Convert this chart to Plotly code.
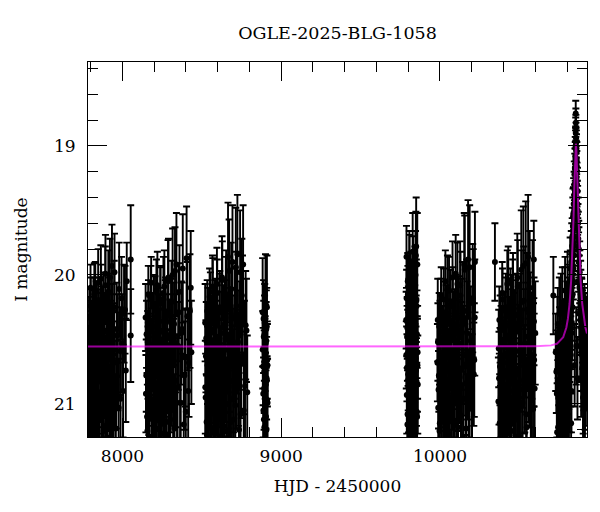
import plotly.graph_objects as go

# ---------------- data (HJD - 2450000, I mag, error) ----------------
hjd1 = [7786, 7788, 7791, 7793, 7797, 7799, 7802, 7806, 7808, 7811, 7815, 7817, 7820, 7824, 7827,
        7829, 7833, 7836, 7838, 7842, 7845, 7848, 7851, 7855, 7858, 7861, 7864, 7868, 7871, 7874,
        7878, 7881, 7885, 7888, 7892, 7895, 7899, 7903, 7906, 7910, 7913, 7917, 7921, 7925, 7928,
        7932, 7936, 7941, 7945, 7950, 7955, 7961, 7968, 7976, 7985, 7994, 8004, 8016, 8027, 8052, 8052]
mag1 = [20.62, 20.95, 20.33, 21.18, 20.74, 20.10, 20.88, 21.32, 20.45, 20.67,
        21.05, 20.22, 20.81, 20.53, 21.25, 20.12, 20.97, 20.40, 20.70, 21.12,
        20.58, 20.26, 20.91, 21.38, 20.48, 20.79, 20.03, 20.64, 21.01, 20.35,
        20.86, 21.21, 20.43, 20.72, 20.08, 20.99, 20.56, 21.29, 20.29, 20.83,
        20.61, 21.08, 20.02, 20.76, 20.50, 21.15, 20.37, 20.93, 20.68, 19.98,
        21.35, 20.85, 20.47, 21.03, 20.59, 20.18, 20.90, 20.27, 20.05, 19.88, 20.47]
err1 = [0.22, 0.30, 0.22, 0.36, 0.26, 0.18, 0.30, 0.38, 0.24, 0.26,
        0.34, 0.20, 0.30, 0.25, 0.38, 0.22, 0.32, 0.26, 0.28, 0.36,
        0.26, 0.24, 0.32, 0.40, 0.26, 0.30, 0.26, 0.28, 0.34, 0.26,
        0.32, 0.38, 0.28, 0.30, 0.30, 0.34, 0.28, 0.40, 0.30, 0.32,
        0.30, 0.36, 0.30, 0.32, 0.30, 0.38, 0.30, 0.34, 0.32, 0.30,
        0.42, 0.34, 0.32, 0.38, 0.34, 0.32, 0.36, 0.34, 0.30, 0.42, 0.36]
hjd1b = [7787, 7790, 7794, 7796, 7800, 7803, 7805, 7809, 7812, 7814, 7818, 7821, 7823, 7826, 7830,
         7832, 7835, 7839, 7841, 7844, 7847, 7849, 7853, 7856, 7859, 7863, 7866, 7869, 7873, 7876,
         7879, 7883, 7886, 7890, 7893, 7897, 7901, 7904, 7908, 7911, 7915, 7919, 7923, 7927, 7930,
         7934, 7939, 7943, 7948, 7952, 7958, 7964, 7971, 7979, 7988, 7998, 8010, 8021]
mag1b = [20.84, 20.41, 21.09, 20.57, 20.24, 21.28, 20.69, 20.93, 20.36, 21.14,
         20.51, 20.77, 20.15, 21.02, 20.63, 20.89, 20.31, 21.22, 20.46, 20.73,
         20.06, 20.98, 20.55, 21.33, 20.39, 20.82, 20.20, 21.07, 20.66, 20.92,
         20.28, 21.17, 20.52, 20.79, 19.99, 20.95, 20.44, 21.26, 20.60, 20.13,
         20.87, 20.34, 21.11, 20.71, 20.49, 19.93, 21.00, 20.58, 20.25, 20.80,
         21.19, 20.42, 20.67, 20.11, 20.96, 20.53, 20.30, 20.74]
err1b = [0.28, 0.24, 0.34, 0.26, 0.22, 0.38, 0.28, 0.32, 0.24, 0.36,
         0.26, 0.30, 0.24, 0.34, 0.28, 0.32, 0.26, 0.38, 0.28, 0.30,
         0.26, 0.34, 0.28, 0.40, 0.28, 0.32, 0.28, 0.36, 0.30, 0.34,
         0.30, 0.38, 0.30, 0.32, 0.30, 0.34, 0.30, 0.40, 0.32, 0.32,
         0.34, 0.32, 0.38, 0.34, 0.34, 0.32, 0.38, 0.36, 0.36, 0.38,
         0.42, 0.36, 0.38, 0.36, 0.40, 0.38, 0.38, 0.40]

hjd2 = [8146, 8150, 8155, 8159, 8163, 8166, 8170, 8174, 8177, 8181, 8185, 8188, 8192, 8196, 8199,
        8203, 8207, 8210, 8214, 8218, 8222, 8225, 8229, 8233, 8237, 8240, 8244, 8248, 8252, 8256,
        8260, 8264, 8268, 8272, 8276, 8281, 8285, 8290, 8294, 8299, 8304, 8309, 8314, 8319, 8325,
        8331, 8337, 8344, 8351, 8359, 8367, 8376, 8386, 8395, 8404, 8414, 8425, 8434]
mag2 = [20.33, 20.78, 21.10, 20.52, 20.15, 20.94, 21.27, 20.41, 20.69, 20.06,
        20.87, 21.36, 20.58, 20.24, 21.02, 20.73, 20.47, 21.19, 20.12, 20.84,
        20.61, 21.31, 20.36, 20.96, 20.54, 20.19, 21.07, 20.80, 20.44, 21.23,
        20.66, 20.09, 20.91, 20.30, 21.14, 20.57, 20.75, 20.02, 21.40, 20.49,
        20.88, 20.21, 20.70, 21.04, 20.38, 19.97, 20.82, 21.28, 20.55, 20.13,
        20.99, 20.42, 21.16, 20.64, 19.87, 20.90, 20.28, 20.60]
err2 = [0.26, 0.28, 0.34, 0.24, 0.22, 0.30, 0.38, 0.24, 0.28, 0.20,
        0.30, 0.40, 0.26, 0.24, 0.34, 0.28, 0.26, 0.36, 0.24, 0.30,
        0.28, 0.40, 0.26, 0.32, 0.28, 0.26, 0.34, 0.30, 0.28, 0.38,
        0.30, 0.28, 0.32, 0.28, 0.36, 0.30, 0.32, 0.30, 0.42, 0.30,
        0.34, 0.32, 0.34, 0.38, 0.32, 0.34, 0.36, 0.42, 0.34, 0.36,
        0.38, 0.36, 0.40, 0.38, 0.40, 0.40, 0.44, 0.40]
hjd2b = [8148, 8152, 8157, 8161, 8164, 8168, 8172, 8175, 8179, 8183, 8186, 8190, 8194, 8197, 8201,
         8205, 8208, 8212, 8216, 8220, 8223, 8227, 8231, 8235, 8238, 8242, 8246, 8250, 8254, 8258,
         8262, 8266, 8270, 8274, 8279, 8283, 8287, 8292, 8297, 8301, 8306, 8311, 8316, 8322, 8328,
         8334, 8340, 8347, 8355, 8363, 8371, 8380, 8390, 8399, 8409, 8419, 8430]
mag2b = [20.92, 20.46, 21.21, 20.68, 20.30, 21.04, 20.56, 20.83, 20.17, 21.33,
         20.62, 20.40, 20.97, 20.74, 21.15, 20.27, 20.89, 20.52, 21.29, 20.08,
         20.79, 20.43, 21.08, 20.65, 20.22, 20.95, 21.37, 20.50, 20.85, 20.14,
         21.01, 20.59, 20.34, 20.76, 21.24, 20.47, 20.05, 20.91, 20.63, 21.12,
         20.37, 20.81, 20.00, 20.70, 21.19, 20.53, 19.92, 20.87, 20.29, 20.99,
         20.45, 19.95, 20.78, 21.06, 20.32, 20.68, 20.10]
err2b = [0.30, 0.26, 0.36, 0.28, 0.26, 0.34, 0.26, 0.30, 0.24, 0.40,
         0.28, 0.26, 0.32, 0.30, 0.36, 0.26, 0.32, 0.28, 0.40, 0.26,
         0.30, 0.28, 0.36, 0.30, 0.28, 0.34, 0.42, 0.30, 0.32, 0.28,
         0.36, 0.32, 0.30, 0.34, 0.40, 0.32, 0.32, 0.36, 0.34, 0.40,
         0.34, 0.36, 0.36, 0.36, 0.42, 0.38, 0.40, 0.40, 0.38, 0.42,
         0.40, 0.42, 0.42, 0.44, 0.42, 0.42, 0.44]

hjd3 = [8521, 8522, 8526, 8530, 8534, 8538, 8541, 8545, 8549, 8552, 8556, 8560, 8563, 8567, 8571,
        8574, 8578, 8582, 8586, 8589, 8593, 8597, 8601, 8605, 8609, 8613, 8617, 8621, 8625, 8629,
        8634, 8638, 8642, 8647, 8651, 8656, 8661, 8665, 8670, 8675, 8680, 8685, 8690, 8696, 8702,
        8708, 8714, 8720, 8727, 8734, 8741, 8748, 8756, 8764, 8772, 8781]
mag3 = [20.37, 20.87, 20.63, 21.14, 20.28, 20.92, 20.51, 21.30, 20.17, 20.76,
        21.03, 20.44, 20.85, 20.09, 21.22, 20.59, 20.71, 20.32, 21.37, 20.98,
        20.48, 20.14, 20.81, 21.09, 20.55, 20.25, 20.94, 21.26, 20.67, 20.04,
        20.89, 20.40, 21.17, 20.73, 20.20, 21.00, 20.58, 19.86, 20.83, 21.33,
        20.46, 20.11, 20.96, 20.62, 21.12, 20.34, 19.94, 20.79, 20.52, 21.20,
        19.98, 20.69, 20.27, 21.05, 20.86, 20.43]
err3 = [0.30, 0.36, 0.28, 0.36, 0.24, 0.32, 0.26, 0.40, 0.22, 0.30,
        0.34, 0.26, 0.30, 0.24, 0.38, 0.28, 0.30, 0.28, 0.42, 0.34,
        0.28, 0.26, 0.32, 0.36, 0.30, 0.28, 0.34, 0.40, 0.32, 0.30,
        0.34, 0.32, 0.38, 0.34, 0.34, 0.36, 0.34, 0.42, 0.36, 0.42,
        0.36, 0.36, 0.38, 0.36, 0.40, 0.40, 0.46, 0.40, 0.40, 0.44,
        0.48, 0.42, 0.42, 0.44, 0.42, 0.40]
hjd3b = [8524, 8528, 8532, 8536, 8539, 8543, 8547, 8550, 8554, 8558, 8562, 8565, 8569, 8572, 8576,
         8580, 8584, 8587, 8591, 8595, 8599, 8603, 8607, 8611, 8615, 8619, 8623, 8627, 8631, 8636,
         8640, 8644, 8649, 8653, 8658, 8663, 8667, 8672, 8677, 8682, 8687, 8693, 8699, 8705, 8711,
         8717, 8724, 8730, 8737, 8744, 8752, 8760, 8768, 8776, 8786]
mag3b = [20.95, 20.49, 21.24, 20.70, 20.36, 21.07, 20.60, 20.88, 20.22, 21.35,
         20.54, 20.79, 20.13, 20.99, 20.42, 21.18, 20.65, 20.31, 20.90, 20.07,
         21.11, 20.57, 20.84, 20.29, 21.28, 20.74, 20.45, 20.02, 20.93, 20.61,
         21.04, 20.38, 20.78, 20.15, 21.21, 20.50, 20.87, 19.97, 20.68, 21.14,
         20.33, 19.90, 20.82, 20.56, 21.01, 20.24, 19.84, 20.73, 20.47, 21.08,
         20.16, 19.92, 20.64, 20.39, 20.91]
err3b = [0.34, 0.28, 0.38, 0.30, 0.26, 0.34, 0.28, 0.32, 0.24, 0.42,
         0.28, 0.30, 0.26, 0.34, 0.28, 0.38, 0.30, 0.28, 0.34, 0.28,
         0.38, 0.30, 0.34, 0.30, 0.42, 0.34, 0.32, 0.32, 0.36, 0.34,
         0.38, 0.34, 0.36, 0.34, 0.42, 0.36, 0.38, 0.40, 0.38, 0.42,
         0.38, 0.44, 0.40, 0.40, 0.42, 0.42, 0.46, 0.44, 0.42, 0.46,
         0.44, 0.46, 0.44, 0.42, 0.44]

hjd4 = [8883, 8886, 8888, 8890, 8892, 8894, 8896, 8898, 8900, 8902, 8904, 8906, 8908, 8910, 8912, 8914,
        8884, 8887, 8889, 8891, 8893, 8895, 8897, 8899, 8901, 8903, 8905, 8907, 8909, 8911, 8913]
mag4 = [20.29, 20.71, 21.05, 20.48, 20.88, 21.18, 20.37, 20.62, 20.95, 20.53, 21.10, 20.42, 20.80, 20.25, 20.66, 20.99,
        20.58, 20.92, 20.34, 21.12, 20.75, 20.46, 21.02, 20.64, 20.22, 20.85, 20.51, 21.20, 20.40, 20.97, 20.70]
err4 = [0.42, 0.30, 0.34, 0.28, 0.32, 0.36, 0.30, 0.28, 0.34, 0.30, 0.36, 0.30, 0.32, 0.40, 0.30, 0.34,
        0.30, 0.34, 0.30, 0.36, 0.32, 0.30, 0.34, 0.32, 0.38, 0.34, 0.30, 0.38, 0.30, 0.34, 0.32]

hjd5 = [9787, 9789, 9792, 9793, 9796, 9798, 9799, 9802, 9804, 9805, 9808, 9810, 9811, 9814, 9816, 9817,
        9820, 9822, 9823, 9826, 9828, 9829, 9832, 9834, 9835, 9838, 9840, 9841, 9844, 9846, 9847,
        9850, 9852, 9853, 9856, 9858]
mag5 = [20.35, 19.86, 20.72, 20.48, 21.08, 20.15, 20.60, 20.92, 20.27, 20.81,
        19.95, 20.54, 21.14, 20.40, 20.06, 20.67, 20.98, 20.21, 20.86, 20.45,
        19.82, 20.75, 21.02, 20.31, 20.58, 20.10, 20.90, 20.38, 20.64, 20.00,
        20.50, 19.78, 20.83, 20.24, 21.10, 20.70]
err5 = [0.22, 0.24, 0.26, 0.24, 0.34, 0.22, 0.26, 0.30, 0.24, 0.28,
        0.26, 0.26, 0.34, 0.24, 0.24, 0.28, 0.32, 0.26, 0.30, 0.28,
        0.30, 0.30, 0.34, 0.28, 0.30, 0.28, 0.32, 0.30, 0.32, 0.34,
        0.32, 0.38, 0.34, 0.32, 0.38, 0.36]
hjd5b = [9788, 9790, 9791, 9794, 9795, 9797, 9800, 9801, 9803, 9806, 9807, 9809, 9812, 9813, 9815,
         9818, 9819, 9821, 9824, 9825, 9827, 9830, 9831, 9833, 9836, 9837, 9839, 9842, 9843, 9845,
         9848, 9849, 9851, 9854, 9855, 9857, 9859, 9860]
mag5b = [20.62, 20.18, 20.93, 20.41, 21.16, 20.05, 20.77, 20.33, 20.55, 21.04,
         19.90, 20.69, 20.26, 20.88, 20.47, 21.20, 20.12, 20.79, 20.36, 20.96,
         20.58, 19.98, 20.84, 20.28, 21.12, 20.43, 20.66, 20.08, 20.99, 20.52,
         19.85, 20.74, 20.20, 21.06, 20.46, 19.92, 20.60, 20.85]
err5b = [0.26, 0.22, 0.30, 0.24, 0.34, 0.22, 0.28, 0.24, 0.26, 0.32,
         0.24, 0.28, 0.24, 0.30, 0.26, 0.36, 0.24, 0.30, 0.28, 0.32,
         0.30, 0.28, 0.32, 0.28, 0.36, 0.30, 0.32, 0.30, 0.34, 0.32,
         0.34, 0.34, 0.32, 0.38, 0.34, 0.40, 0.36, 0.38]

hjd6 = [9986, 9987, 9989, 9993, 9997, 10000, 10004, 10008, 10011, 10015, 10019, 10022, 10026, 10030,
        10034, 10037, 10041, 10045, 10049, 10053, 10057, 10061, 10065, 10069, 10073, 10077, 10081,
        10086, 10090, 10094, 10099, 10103, 10108, 10112, 10117, 10122, 10127, 10132, 10137, 10142,
        10148, 10153, 10159, 10165, 10171, 10177, 10184, 10191, 10198, 10206, 10213, 10219, 10220]
mag6 = [20.35, 20.52, 21.03, 20.78, 21.21, 20.44, 20.91, 20.16, 21.34, 20.63,
        20.85, 20.29, 21.12, 20.57, 20.05, 20.97, 20.70, 21.26, 20.38, 20.82,
        20.12, 21.06, 20.60, 20.47, 21.38, 20.88, 20.22, 20.74, 21.16, 20.41,
        19.99, 20.93, 20.66, 21.29, 20.33, 20.80, 20.08, 21.09, 20.55, 20.26,
        20.96, 19.92, 20.71, 21.19, 20.45, 19.88, 20.86, 20.59, 21.01, 20.18,
        20.77, 20.33, 19.90]
err6 = [0.32, 0.30, 0.36, 0.28, 0.36, 0.24, 0.30, 0.22, 0.40, 0.26,
        0.30, 0.24, 0.36, 0.26, 0.24, 0.32, 0.28, 0.40, 0.26, 0.30,
        0.26, 0.36, 0.28, 0.28, 0.42, 0.32, 0.28, 0.30, 0.38, 0.30,
        0.30, 0.34, 0.32, 0.42, 0.32, 0.34, 0.34, 0.38, 0.34, 0.36,
        0.38, 0.40, 0.38, 0.42, 0.40, 0.46, 0.40, 0.40, 0.42, 0.42,
        0.40, 0.45, 0.39]
hjd6b = [9984, 9991, 9995, 9999, 10002, 10006, 10009, 10013, 10017, 10020, 10024, 10028, 10032,
         10035, 10039, 10043, 10047, 10051, 10055, 10059, 10063, 10067, 10071, 10075, 10079, 10083,
         10088, 10092, 10096, 10101, 10105, 10110, 10114, 10119, 10124, 10129, 10134, 10139, 10145,
         10150, 10156, 10162, 10168, 10174, 10180, 10187, 10194, 10202, 10209, 10216]
mag6b = [20.68, 20.89, 20.40, 21.15, 20.61, 20.27, 21.00, 20.75, 20.50, 21.30,
         20.19, 20.86, 20.58, 21.08, 20.34, 20.95, 20.11, 20.72, 21.23, 20.48,
         20.83, 20.24, 21.36, 20.64, 20.02, 20.92, 20.43, 21.13, 20.69, 20.30,
         20.87, 20.07, 21.18, 20.53, 20.79, 20.16, 20.98, 20.39, 21.26, 20.62,
         19.96, 20.84, 20.28, 20.70, 21.04, 19.94, 20.51, 20.90, 20.22, 20.66]
err6b = [0.30, 0.30, 0.26, 0.36, 0.28, 0.24, 0.34, 0.28, 0.26, 0.40,
         0.24, 0.32, 0.28, 0.36, 0.26, 0.34, 0.26, 0.30, 0.38, 0.28,
         0.32, 0.28, 0.42, 0.30, 0.28, 0.34, 0.30, 0.38, 0.32, 0.30,
         0.34, 0.32, 0.40, 0.34, 0.36, 0.34, 0.38, 0.36, 0.42, 0.38,
         0.42, 0.40, 0.40, 0.42, 0.44, 0.48, 0.42, 0.44, 0.42, 0.44]

hjd7 = [10346, 10370, 10372, 10376, 10379, 10383, 10387, 10390, 10394, 10398, 10402, 10405, 10409,
        10413, 10417, 10420, 10424, 10428, 10432, 10436, 10440, 10444, 10448, 10452, 10456, 10460,
        10464, 10469, 10473, 10478, 10482, 10487, 10492, 10497, 10502, 10507, 10512, 10517, 10523,
        10528, 10534, 10540, 10546, 10552, 10558, 10565, 10572, 10579, 10586, 10591, 10592, 10593, 10600]
mag7 = [19.90, 20.57, 20.80, 21.15, 20.42, 20.95, 20.66, 21.30, 20.19, 20.74,
        21.02, 20.50, 20.87, 20.28, 21.22, 20.61, 20.07, 20.92, 20.39, 21.11,
        20.70, 20.23, 21.36, 20.54, 20.84, 20.13, 20.98, 20.46, 21.07, 20.31,
        20.77, 20.02, 21.25, 20.59, 20.89, 20.35, 19.96, 21.00, 20.65, 20.20,
        20.82, 19.91, 21.18, 20.48, 20.72, 20.10, 20.94, 20.56, 21.04, 19.88,
        20.36, 20.66, 20.45]
err7 = [0.30, 0.30, 0.36, 0.38, 0.26, 0.32, 0.28, 0.40, 0.24, 0.30,
        0.34, 0.26, 0.30, 0.26, 0.38, 0.28, 0.26, 0.32, 0.28, 0.36,
        0.30, 0.28, 0.42, 0.30, 0.32, 0.30, 0.34, 0.32, 0.38, 0.32,
        0.34, 0.34, 0.42, 0.36, 0.36, 0.36, 0.46, 0.40, 0.38, 0.42,
        0.40, 0.48, 0.44, 0.42, 0.42, 0.44, 0.42, 0.40, 0.42, 0.30,
        0.34, 0.36, 0.40]
hjd7b = [10368, 10374, 10378, 10381, 10385, 10389, 10392, 10396, 10400, 10404, 10407, 10411, 10415,
         10418, 10422, 10426, 10430, 10434, 10438, 10442, 10446, 10450, 10454, 10458, 10462, 10466,
         10471, 10475, 10480, 10485, 10490, 10494, 10499, 10504, 10509, 10514, 10520, 10525, 10531,
         10537, 10543, 10549, 10555, 10562, 10569, 10576, 10583, 10589, 10596]
mag7b = [20.98, 20.35, 20.71, 21.26, 20.52, 20.86, 20.14, 21.09, 20.63, 20.41,
         20.93, 21.33, 20.25, 20.79, 20.56, 21.17, 20.04, 20.90, 20.47, 20.68,
         21.05, 20.30, 20.83, 20.18, 21.21, 20.60, 20.96, 20.38, 20.75, 21.12,
         20.09, 20.87, 20.44, 21.29, 20.66, 20.21, 20.99, 19.93, 20.81, 20.53,
         21.08, 20.27, 19.86, 20.74, 20.40, 20.97, 20.15, 20.62, 20.88]
err7b = [0.34, 0.26, 0.30, 0.40, 0.28, 0.32, 0.24, 0.36, 0.28, 0.28,
         0.32, 0.42, 0.26, 0.30, 0.28, 0.38, 0.26, 0.34, 0.30, 0.32,
         0.36, 0.30, 0.34, 0.30, 0.40, 0.34, 0.36, 0.34, 0.36, 0.40,
         0.36, 0.38, 0.38, 0.44, 0.40, 0.40, 0.42, 0.46, 0.42, 0.42,
         0.44, 0.44, 0.48, 0.44, 0.42, 0.44, 0.42, 0.40, 0.42]

hjd8 = [10714, 10729, 10736, 10740, 10744, 10748, 10750, 10752, 10756, 10760, 10764, 10768, 10771,
        10775, 10778, 10780, 10782, 10785, 10788, 10791, 10794, 10797, 10800, 10803, 10806, 10808,
        10809, 10812, 10815, 10818, 10820, 10823, 10826, 10826, 10828, 10830, 10832, 10834, 10836,
        10838, 10840, 10842, 10844, 10846, 10848, 10848, 10850, 10852, 10853, 10854, 10855, 10856,
        10857, 10858, 10858, 10859, 10860, 10861, 10862, 10864, 10866, 10866, 10868, 10870, 10872,
        10874, 10877, 10880, 10883, 10886, 10889, 10892, 10895, 10898, 10901, 10904, 10907, 10910,
        10913, 10916, 10919, 10922, 10925]
mag8 = [20.16, 20.60, 20.92, 20.45, 21.18, 20.71, 21.36, 20.30, 21.05, 20.58, 21.32, 20.84, 20.22,
        20.97, 20.50, 21.28, 21.12, 20.66, 20.12, 20.88, 20.40, 21.24, 20.62, 20.08, 20.78, 21.30,
        20.35, 21.00, 20.18, 20.55, 19.95, 20.72, 20.10, 21.15, 20.90, 19.84, 20.38, 19.70, 20.15,
        19.55, 19.95, 19.45, 19.75, 19.30, 19.50, 20.70, 19.18, 19.08, 19.35, 19.00, 18.75, 18.86,
        18.94, 19.10, 20.55, 19.25, 19.05, 19.40, 19.20, 19.55, 19.35, 20.80, 19.78, 19.60, 20.05,
        19.80, 20.30, 19.98, 20.55, 20.15, 20.80, 20.28, 20.62, 20.40, 20.95, 20.50, 20.75, 20.35,
        21.02, 20.58, 20.85, 20.45, 20.70]
err8 = [0.30, 0.30, 0.34, 0.28, 0.38, 0.30, 0.40, 0.28, 0.34, 0.30, 0.40, 0.32, 0.28,
        0.34, 0.30, 0.38, 0.36, 0.30, 0.26, 0.32, 0.28, 0.38, 0.30, 0.26, 0.30, 0.40,
        0.28, 0.34, 0.26, 0.28, 0.24, 0.30, 0.26, 0.36, 0.32, 0.24, 0.28, 0.22, 0.26,
        0.22, 0.24, 0.20, 0.22, 0.18, 0.20, 0.32, 0.16, 0.15, 0.18, 0.14, 0.10, 0.10,
        0.12, 0.14, 0.30, 0.16, 0.14, 0.18, 0.16, 0.20, 0.18, 0.32, 0.22, 0.20, 0.24,
        0.22, 0.26, 0.24, 0.28, 0.26, 0.30, 0.26, 0.28, 0.28, 0.32, 0.28, 0.30, 0.28,
        0.34, 0.30, 0.32, 0.28, 0.30]
hjd8b = [10733, 10738, 10742, 10746, 10754, 10758, 10762, 10766, 10770, 10773, 10777, 10784, 10787,
         10790, 10793, 10796, 10799, 10802, 10805, 10811, 10814, 10817, 10821, 10824, 10827, 10829,
         10833, 10835, 10837, 10839, 10841, 10843, 10845, 10847, 10849, 10851, 10852, 10854, 10855,
         10856, 10857, 10859, 10860, 10862, 10863, 10865, 10867, 10869, 10871, 10873, 10875, 10878,
         10881, 10884, 10887, 10890, 10893, 10896, 10899, 10902, 10905, 10908, 10911, 10914, 10917,
         10920, 10923]
mag8b = [20.75, 21.22, 20.38, 20.95, 20.55, 21.10, 20.27, 20.82, 21.30, 20.48,
         20.68, 20.92, 20.20, 21.16, 20.60, 20.85, 20.33, 21.04, 20.52, 20.74,
         20.28, 20.90, 20.05, 20.62, 19.90, 20.45, 19.78, 20.25, 19.62, 20.05,
         19.52, 19.85, 19.38, 19.62, 19.22, 19.40, 19.12, 19.02, 18.90, 18.82,
         18.98, 19.02, 19.15, 19.12, 19.30, 19.45, 19.50, 19.65, 19.72, 19.90,
         19.85, 20.10, 20.05, 20.35, 20.22, 20.60, 20.30, 20.72, 20.45, 20.90,
         20.38, 20.65, 20.50, 20.88, 20.42, 20.75, 20.55]
err8b = [0.32, 0.38, 0.28, 0.34, 0.30, 0.36, 0.28, 0.32, 0.40, 0.28,
         0.30, 0.34, 0.26, 0.36, 0.30, 0.32, 0.28, 0.34, 0.30, 0.30,
         0.26, 0.32, 0.24, 0.30, 0.24, 0.28, 0.22, 0.26, 0.22, 0.24,
         0.20, 0.22, 0.18, 0.20, 0.16, 0.18, 0.15, 0.14, 0.12, 0.11,
         0.12, 0.14, 0.15, 0.15, 0.17, 0.18, 0.19, 0.20, 0.21, 0.23,
         0.22, 0.25, 0.24, 0.27, 0.26, 0.30, 0.27, 0.30, 0.28, 0.33,
         0.28, 0.30, 0.29, 0.32, 0.28, 0.30, 0.29]

# microlensing model curve
model_hjd = [7783, 10600, 10700, 10736, 10776, 10796, 10806, 10816, 10826, 10831, 10836, 10841,
             10846, 10849, 10851, 10853, 10856, 10859, 10861, 10863, 10866, 10871, 10876, 10881,
             10886, 10896, 10906, 10916, 10926]
model_mag = [20.555, 20.553, 20.546, 20.534, 20.483, 20.407, 20.337, 20.225, 20.048, 19.923,
             19.765, 19.568, 19.330, 19.185, 19.097, 19.027, 18.983, 19.027, 19.097, 19.185,
             19.330, 19.568, 19.765, 19.923, 20.048, 20.225, 20.337, 20.407, 20.453]

x_range = [7783, 10926]
y_range = [21.256, 18.35]

# ---------------- figure ----------------
hjd = hjd1 + hjd1b + hjd2 + hjd2b + hjd3 + hjd3b + hjd4 + hjd5 + hjd5b + hjd6 + hjd6b + hjd7 + hjd7b + hjd8 + hjd8b
mag = mag1 + mag1b + mag2 + mag2b + mag3 + mag3b + mag4 + mag5 + mag5b + mag6 + mag6b + mag7 + mag7b + mag8 + mag8b
err = err1 + err1b + err2 + err2b + err3 + err3b + err4 + err5 + err5b + err6 + err6b + err7 + err7b + err8 + err8b

FONT = "DejaVu Serif"

fig = go.Figure()
fig.add_trace(go.Scatter(
    x=hjd, y=mag, mode="markers",
    marker=dict(color="black", size=6),
    error_y=dict(type="data", array=err, visible=True, color="black", thickness=1.9, width=3.5),
    showlegend=False,
))
fig.add_trace(go.Scatter(
    x=model_hjd, y=model_mag, mode="lines",
    line=dict(color="rgba(255,0,255,0.6)", width=2),
    showlegend=False,
))

axis_common = dict(
    showline=True, linecolor="black", linewidth=1, mirror="ticks",
    ticks="inside", ticklen=19, tickwidth=1, tickcolor="black",
    showgrid=False, zeroline=False, tickformat="d",
    tickfont=dict(family=FONT, size=17, color="black"),
)

fig.update_xaxes(
    range=x_range, tickmode="linear", tick0=8000, dtick=1000,
    minor=dict(ticks="inside", ticklen=10, dtick=200, tick0=8000, tickcolor="black", showgrid=False),
    title=dict(text="HJD - 2450000", font=dict(family=FONT, size=17, color="black"), standoff=14),
    ticklabelstandoff=4,
    **axis_common,
)
fig.update_yaxes(
    range=y_range, tickmode="linear", tick0=19, dtick=1,
    minor=dict(ticks="inside", ticklen=10, dtick=0.2, tick0=19, tickcolor="black", showgrid=False),
    title=dict(text="I magnitude", font=dict(family=FONT, size=17, color="black"), standoff=22),
    ticklabelstandoff=8,
    **axis_common,
)

fig.update_layout(
    width=584, height=496,
    margin=dict(l=80, r=5, t=54, b=67),
    plot_bgcolor="white", paper_bgcolor="white",
    title=dict(text="OGLE-2025-BLG-1058", x=0.5, xref="paper", y=1 - 25 / 496, yref="container",
               xanchor="center", yanchor="middle",
               font=dict(family=FONT, size=17.5, color="black")),
)

fig.write_html("out.html")
